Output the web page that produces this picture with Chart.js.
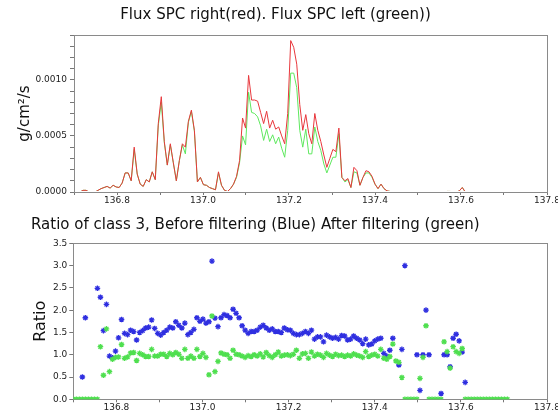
<!DOCTYPE html>
<html>
<head>
<meta charset="utf-8">
<script src="https://cdn.jsdelivr.net/npm/chart.js@4.4.1/dist/chart.umd.min.js"></script>
<style>
  html, body { margin: 0; padding: 0; background: #fff; }
  #wrap { position: relative; width: 558px; height: 417px; overflow: hidden; }
  .box { position: absolute; left: 0; width: 558px; height: 212px; }
  #top { top: 0; }
  #bottom { top: 205px; }
</style>
</head>
<body>
<div id="wrap">
  <div class="box" id="top"><canvas id="fluxChart" width="558" height="212"></canvas></div>
  <div class="box" id="bottom"><canvas id="ratioChart" width="558" height="212"></canvas></div>
</div>
<script>
// sample times (day of year), one sample every ~10 min
const times = [
  136.700, 136.707, 136.714, 136.721, 136.728, 136.735, 136.742, 136.749, 136.756, 136.763,
  136.770, 136.777, 136.784, 136.791, 136.798, 136.805, 136.812, 136.819, 136.826, 136.833,
  136.840, 136.847, 136.854, 136.861, 136.868, 136.875, 136.882, 136.889, 136.896, 136.903,
  136.910, 136.917, 136.924, 136.931, 136.938, 136.945, 136.952, 136.959, 136.966, 136.973,
  136.980, 136.987, 136.994, 137.001, 137.008, 137.015, 137.022, 137.029, 137.036, 137.043,
  137.050, 137.057, 137.064, 137.071, 137.078, 137.085, 137.092, 137.099, 137.106, 137.113,
  137.120, 137.127, 137.134, 137.141, 137.148, 137.155, 137.162, 137.169, 137.176, 137.183,
  137.190, 137.197, 137.204, 137.211, 137.218, 137.225, 137.232, 137.239, 137.246, 137.253,
  137.260, 137.267, 137.274, 137.281, 137.288, 137.295, 137.302, 137.309, 137.316, 137.323,
  137.330, 137.337, 137.344, 137.351, 137.358, 137.365, 137.372, 137.379, 137.386, 137.393,
  137.400, 137.407, 137.414, 137.421, 137.428, 137.435, 137.442, 137.449, 137.456, 137.463,
  137.470, 137.477, 137.484, 137.491, 137.498, 137.505, 137.512, 137.519, 137.526, 137.533,
  137.540, 137.547, 137.554, 137.561, 137.568, 137.575, 137.582, 137.589, 137.596, 137.603,
  137.610, 137.617, 137.624, 137.631, 137.638, 137.645, 137.652, 137.659, 137.666, 137.673,
  137.680, 137.687, 137.694, 137.701, 137.708
];

// top panel: flux, g/cm2/s
const fluxRight = [
  0, 0, 0, 0.15e-4, 0.15e-4, 0, 0, 0, 0.15e-4, 0.3e-4,
  0.4e-4, 0.5e-4, 0.35e-4, 0.6e-4, 0.45e-4, 0.4e-4, 0.8e-4, 1.7e-4, 1.7e-4, 1.0e-4,
  4.0e-4, 1.6e-4, 0.7e-4, 0.5e-4, 1.1e-4, 0.9e-4, 1.8e-4, 1.1e-4, 6.1e-4, 8.5e-4,
  4.5e-4, 2.4e-4, 4.3e-4, 2.6e-4, 1.0e-4, 2.8e-4, 4.3e-4, 4.0e-4, 6.3e-4, 7.3e-4,
  5.5e-4, 0.9e-4, 1.3e-4, 0.65e-4, 0.6e-4, 0.4e-4, 0.3e-4, 0.2e-4, 1.8e-4, 0.6e-4,
  0.15e-4, 0.05e-4, 0.3e-4, 0.7e-4, 1.4e-4, 2.8e-4, 6.6e-4, 5.7e-4, 10.4e-4, 8.2e-4,
  8.2e-4, 8.1e-4, 7.1e-4, 6.1e-4, 7.2e-4, 5.7e-4, 6.4e-4, 5.6e-4, 5.8e-4, 5.0e-4,
  4.3e-4, 7.0e-4, 13.5e-4, 12.9e-4, 11.4e-4, 7.8e-4, 5.5e-4, 6.9e-4, 5.2e-4, 4.3e-4,
  7.0e-4, 5.5e-4, 4.5e-4, 3.3e-4, 2.2e-4, 3.0e-4, 3.8e-4, 3.6e-4, 5.7e-4, 1.3e-4,
  1.0e-4, 1.2e-4, 0.4e-4, 2.2e-4, 1.9e-4, 0.6e-4, 1.3e-4, 1.9e-4, 1.8e-4, 1.4e-4,
  0.7e-4, 0.3e-4, 0.7e-4, 0.3e-4, 0.1e-4, 0.05e-4, 0, 0, 0, 0,
  0, 0, 0, 0, 0, 0, 0, 0, 0, 0,
  0, 0, 0, 0, 0.05e-4, 0.05e-4, 0, 0, 0.1e-4, 0.4e-4,
  0, 0, null, null, null, null, null, null, null, null,
  null, null, null, null, null
];
const fluxLeft = [
  0, 0, 0, 0.15e-4, 0.15e-4, 0, 0, 0, 0.15e-4, 0.3e-4,
  0.4e-4, 0.5e-4, 0.35e-4, 0.6e-4, 0.45e-4, 0.4e-4, 0.8e-4, 1.7e-4, 1.7e-4, 1.0e-4,
  3.8e-4, 1.6e-4, 0.7e-4, 0.5e-4, 1.1e-4, 0.9e-4, 1.8e-4, 1.1e-4, 5.9e-4, 8.0e-4,
  4.4e-4, 2.4e-4, 4.2e-4, 2.6e-4, 1.0e-4, 2.8e-4, 4.2e-4, 3.4e-4, 6.2e-4, 7.2e-4,
  5.4e-4, 0.9e-4, 1.3e-4, 0.65e-4, 0.6e-4, 0.4e-4, 0.3e-4, 0.2e-4, 1.7e-4, 0.6e-4,
  0.15e-4, 0.05e-4, 0.3e-4, 0.7e-4, 1.3e-4, 2.6e-4, 5.0e-4, 4.2e-4, 8.9e-4, 7.1e-4,
  7.0e-4, 6.7e-4, 5.9e-4, 4.6e-4, 5.6e-4, 4.5e-4, 5.1e-4, 4.3e-4, 4.9e-4, 3.9e-4,
  3.1e-4, 5.5e-4, 10.6e-4, 10.6e-4, 9.3e-4, 5.5e-4, 4.0e-4, 5.6e-4, 3.4e-4, 3.4e-4,
  5.8e-4, 4.5e-4, 3.7e-4, 2.5e-4, 1.7e-4, 2.4e-4, 3.1e-4, 3.1e-4, 5.2e-4, 1.3e-4,
  0.9e-4, 1.1e-4, 0.4e-4, 1.8e-4, 1.7e-4, 0.6e-4, 1.3e-4, 1.7e-4, 1.7e-4, 1.3e-4,
  0.7e-4, 0.3e-4, 0.7e-4, 0.3e-4, 0.1e-4, 0.05e-4, 0, 0, 0, 0,
  0, 0, 0, 0, 0, 0, 0, 0, 0, 0,
  0, 0, 0, 0, 0.05e-4, 0.05e-4, 0, 0, 0.1e-4, 0.4e-4,
  0, 0, null, null, null, null, null, null, null, null,
  null, null, null, null, null
];

// bottom panel: class 3 ratio
const ratioBefore = [
  null, null, null, 0.50, 1.83, null, null, null, 2.49, 2.29,
  1.54, 2.13, 0.97, 0.93, 1.08, 1.38, 1.79, 1.48, 1.45, 1.55,
  1.52, 1.33, 1.50, 1.54, 1.60, 1.62, 1.78, 1.59, 1.48, 1.44,
  1.50, 1.55, 1.62, 1.60, 1.74, 1.66, 1.60, 1.71, 1.45, 1.50,
  1.57, 1.83, 1.75, 1.80, 1.71, 1.74, 3.10, 1.82, 1.63, 1.83,
  1.90, 1.88, 1.83, 2.02, 1.93, 1.83, 1.65, 1.55, 1.48, 1.52,
  1.52, 1.55, 1.62, 1.66, 1.60, 1.55, 1.58, 1.52, 1.52, 1.50,
  1.60, 1.56, 1.55, 1.48, 1.45, 1.45, 1.48, 1.52, 1.48, 1.55,
  1.35, 1.40, 1.40, 1.29, 1.44, 1.40, 1.37, 1.39, 1.35, 1.43,
  1.42, 1.33, 1.35, 1.42, 1.37, 1.33, 1.25, 1.35, 1.22, 1.24,
  1.31, 1.35, 1.37, 1.03, 0.97, 1.10, 1.37, null, 0.77, 1.12,
  3.00, null, null, null, 1.00, 0.20, 1.00, 2.00, 1.00, null,
  null, null, 0.13, 1.00, 1.00, 0.73, 1.37, 1.46, 1.31, 1.06,
  0.38, null, null, null, null, null, null, null, null, null,
  null, null, null, null, null
];
const ratioAfter = [
  0, 0, 0, 0, 0, 0, 0, 0, 0, 1.18,
  0.54, 1.58, 0.62, 0.90, 0.94, 0.95, 1.23, 0.92, 0.95, 1.04,
  1.05, 0.87, 1.03, 1.00, 0.96, 0.96, 1.12, 0.97, 0.97, 1.01,
  1.01, 0.96, 1.03, 1.00, 1.05, 1.01, 0.92, 1.12, 0.92, 0.97,
  0.92, 1.12, 0.96, 1.03, 0.94, 0.55, 1.87, 0.62, 0.85, 1.04,
  1.01, 1.00, 0.92, 1.10, 1.01, 1.00, 0.97, 0.94, 0.98, 0.96,
  1.00, 0.97, 1.02, 0.95, 1.05, 0.98, 0.94, 1.00, 1.06, 0.97,
  0.99, 1.00, 0.98, 1.01, 1.10, 0.92, 1.02, 1.03, 0.92, 1.06,
  0.97, 1.01, 0.99, 0.94, 1.03, 0.99, 0.96, 1.01, 0.98, 0.99,
  0.96, 0.99, 0.97, 1.02, 0.99, 0.97, 0.94, 1.07, 0.96, 0.99,
  1.01, 0.97, 1.12, 0.92, 0.90, 0.96, 1.24, 0.86, 0.83, 0.49,
  0, 0, 0, 0, 0, 0.47, 0.94, 1.65, 0, 0,
  0, 0, 0, 1.29, 1.07, 0.70, 1.18, 1.07, 1.03, 1.14,
  0, 0, 0, 0, 0, 0, 0, 0, 0, 0,
  0, 0, 0, 0, 0
];

const xTickValues = [136.7, 136.8, 136.9, 137.0, 137.1, 137.2, 137.3, 137.4, 137.5, 137.6, 137.7, 137.8];
const xTickLabels = ['', '136.8', '', '137.0', '', '137.2', '', '137.4', '', '137.6', '', '137.8'];
const fluxTickValues = [0, 0.0001, 0.0002, 0.0003, 0.0004, 0.0005, 0.0006, 0.0007,
                        0.0008, 0.0009, 0.0010, 0.0011, 0.0012, 0.0013, 0.0014];
const fluxTickLabels = ['0.0000', '', '', '', '', '0.0005', '', '', '', '', '0.0010', '', '', '', ''];
const ratioTickValues = [0, 0.5, 1, 1.5, 2, 2.5, 3, 3.5];
const ratioTickLabels = ['0.0', '0.5', '1.0', '1.5', '2.0', '2.5', '3.0', '3.5'];

const FONT = "'DejaVu Sans', sans-serif";
const TICK_FONT = { family: FONT, size: 9 };

function pts(ys) {
    return times.map((t, i) => ({ x: t, y: ys[i] }));
}

// grey box round the plot area
function framePlugin(id, onTop) {
    const draw = (chart) => {
        const a = chart.chartArea;
        const ctx = chart.ctx;
        ctx.save();
        ctx.strokeStyle = '#8a8a8a';
        ctx.lineWidth = 1;
        ctx.strokeRect(Math.round(a.left) + 0.5, Math.round(a.top) + 0.5,
                       Math.round(a.right - a.left), Math.round(a.bottom - a.top));
        ctx.restore();
    };
    return onTop ? { id, afterDatasetsDraw: draw } : { id, beforeDatasetsDraw: draw };
}

function xAxis(height) {
    return {
        type: 'linear', min: 136.7, max: 137.8,
        afterBuildTicks: s => { s.ticks = xTickValues.map(v => ({ value: v })); },
        afterFit: s => { s.height = height; s.paddingLeft = 0; s.paddingRight = 0; },
        ticks: { autoSkip: false, maxRotation: 0, padding: 0, color: '#222', font: TICK_FONT,
                 callback: (v, i) => xTickLabels[i] },
        grid: { drawOnChartArea: false, tickLength: 3, tickColor: '#777' },
        border: { display: false }
    };
}

new Chart(document.getElementById('fluxChart'), {
    type: 'line',
    data: {
        datasets: [
            { label: 'Flux SPC right', data: pts(fluxRight), borderColor: '#e8373c', borderWidth: 1,
              pointRadius: 0, tension: 0, clip: { left: 0, top: 0, right: 0, bottom: -1 } },
            { label: 'Flux SPC left', data: pts(fluxLeft), borderColor: '#5ee85e', borderWidth: 1,
              pointRadius: 0, tension: 0, clip: { left: 0, top: 0, right: 0, bottom: -1 } }
        ]
    },
    options: {
        responsive: false, animation: false, events: [],
        layout: { padding: { left: 4, right: 11, top: 0, bottom: 0 } },
        plugins: {
            legend: { display: false },
            tooltip: { enabled: false },
            title: { display: true, text: 'Flux SPC right(red). Flux SPC left (green))', color: '#111',
                     font: { family: FONT, size: 15, weight: 'normal', lineHeight: 1.2 },
                     padding: { top: 6.5, bottom: 10.5 } }
        },
        scales: {
            x: xAxis(20),
            y: {
                min: 0, max: 0.0014,
                afterBuildTicks: s => { s.ticks = fluxTickValues.map(v => ({ value: v })); },
                afterFit: s => { s.width = 70; },
                ticks: { autoSkip: false, padding: 3, color: '#222', font: TICK_FONT,
                         callback: (v, i) => fluxTickLabels[i] },
                grid: { drawOnChartArea: false, tickLength: 4, tickColor: '#777' },
                border: { display: false },
                title: { display: true, text: 'g/cm²/s', color: '#111',
                         font: { family: FONT, size: 15, lineHeight: 1.2 }, padding: { top: 12, bottom: 0 } }
            }
        }
    },
    plugins: [framePlugin('frameTop', true)]
});

new Chart(document.getElementById('ratioChart'), {
    type: 'scatter',
    data: {
        datasets: [
            { label: 'After filtering', data: pts(ratioAfter), borderColor: '#4fdf4f', backgroundColor: '#4fdf4f',
              pointStyle: 'star', pointRadius: 2.8, borderWidth: 1.3 },
            { label: 'Before filtering', data: pts(ratioBefore), borderColor: '#2f2fe0', backgroundColor: '#2f2fe0',
              pointStyle: 'star', pointRadius: 2.8, borderWidth: 1.3 }
        ]
    },
    options: {
        responsive: false, animation: false, events: [],
        layout: { padding: { left: 31, right: 11, top: 0, bottom: 0 } },
        plugins: {
            legend: { display: false },
            tooltip: { enabled: false },
            title: { display: true, align: 'start', color: '#111',
                     text: 'Ratio of class 3, Before filtering (Blue) After filtering (green)',
                     font: { family: FONT, size: 15, weight: 'normal', lineHeight: 1.2 },
                     padding: { top: 11, bottom: 9.3 } }
        },
        scales: {
            x: xAxis(17.7),
            y: {
                min: 0, max: 3.5,
                afterBuildTicks: s => { s.ticks = ratioTickValues.map(v => ({ value: v })); },
                afterFit: s => { s.width = 42.3; },
                ticks: { autoSkip: false, padding: 2, color: '#222', font: TICK_FONT,
                         callback: (v, i) => ratioTickLabels[i] },
                grid: { drawOnChartArea: false, tickLength: 4, tickColor: '#777' },
                border: { display: false },
                title: { display: true, text: 'Ratio', color: '#111',
                         font: { family: FONT, size: 16, lineHeight: 1.2 }, padding: { top: 0, bottom: 0 } }
            }
        }
    },
    plugins: [framePlugin('frameBottom', false)]
});
</script>
</body>
</html>
